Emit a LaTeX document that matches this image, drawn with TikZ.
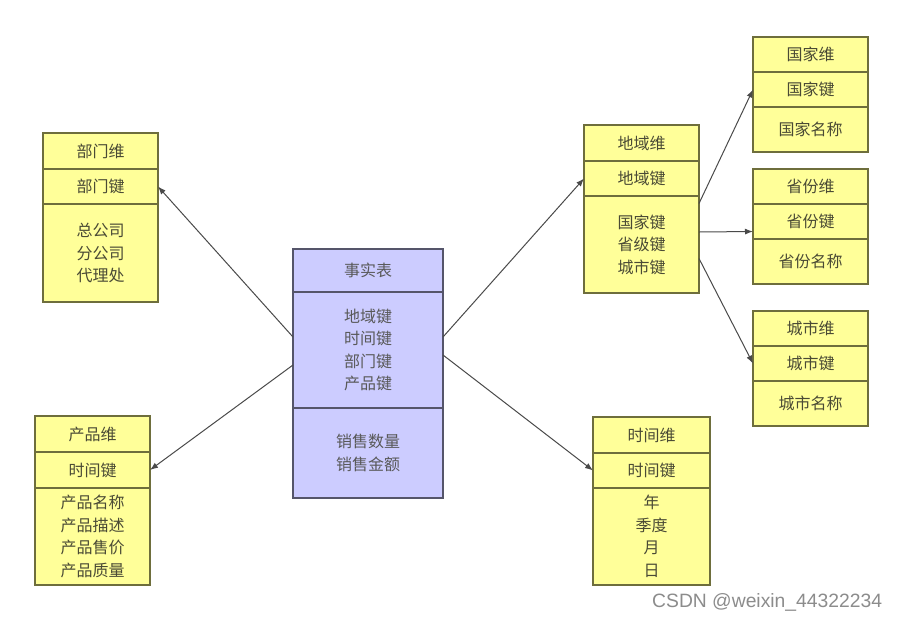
\documentclass[tikz,border=0pt]{standalone}
\usepackage{fontspec}
\newfontfamily\cjk{Noto Sans CJK SC}
\setsansfont{Liberation Sans}
\usetikzlibrary{positioning,arrows.meta}

\definecolor{amarillo}{HTML}{FFFF99}
\definecolor{bordeamarillo}{HTML}{6E6E3C}
\definecolor{lila}{HTML}{CCCCFF}
\definecolor{bordelila}{HTML}{55556A}
\definecolor{texto}{HTML}{4A4A35}
\definecolor{linea}{HTML}{4A4A4A}

\tikzset{
    celda/.style={draw=bordeamarillo, fill=amarillo, line width=1.3pt, minimum width=115pt,
        inner sep=0pt, outer sep=0pt, align=center, text=texto,
        font=\cjk\fontsize{16}{22.5}\selectfont},
    celdahecho/.style={celda, draw=bordelila, fill=lila, minimum width=150pt, text=black!65},
    flecha/.style={draw=linea, line width=1pt, -{Latex[length=8pt,width=6pt]}}
}

\begin{document}
\begin{tikzpicture}[x=1pt,y=-1pt]
    \useasboundingbox[fill=white] (0,0) rectangle (898,619);

    % Tabla de hechos
    \node[celdahecho, anchor=north west, minimum height=43pt] (f1) at (293,249) {事实表};
    \node[celdahecho, below=0pt of f1, minimum height=116pt] (f2) {地域键\\时间键\\部门键\\产品键};
    \node[celdahecho, below=0pt of f2, minimum height=90pt] (f3) {销售数量\\销售金额};

    % Dimensión departamento
    \node[celda, anchor=north west, minimum height=36pt] (d1) at (43,133) {部门维};
    \node[celda, below=0pt of d1, minimum height=35pt] (d2) {部门键};
    \node[celda, below=0pt of d2, minimum height=98pt] (d3) {总公司\\分公司\\代理处};

    % Dimensión producto
    \node[celda, anchor=north west, minimum height=36pt] (p1) at (35,416) {产品维};
    \node[celda, below=0pt of p1, minimum height=36pt] (p2) {时间键};
    \node[celda, below=0pt of p2, minimum height=97pt] (p3) {产品名称\\产品描述\\产品售价\\产品质量};

    % Dimensión región
    \node[celda, anchor=north west, minimum height=36pt] (r1) at (584,125) {地域维};
    \node[celda, below=0pt of r1, minimum height=35pt] (r2) {地域键};
    \node[celda, below=0pt of r2, minimum height=97pt] (r3) {国家键\\省级键\\城市键};

    % Dimensión tiempo
    \node[celda, anchor=north west, minimum width=117pt, minimum height=36pt] (t1) at (593,417) {时间维};
    \node[celda, below=0pt of t1, minimum width=117pt, minimum height=35pt] (t2) {时间键};
    \node[celda, below=0pt of t2, minimum width=117pt, minimum height=97pt] (t3) {年\\季度\\月\\日};

    % Tablas de país, provincia y ciudad
    \foreach \id/\nom/\y in {g/国家/37, s/省份/169, c/城市/311} {
        \node[celda, anchor=north west, minimum height=35pt] (\id1) at (753,\y) {\nom 维};
        \node[celda, below=0pt of \id1, minimum height=35pt] (\id2) {\nom 键};
        \node[celda, below=0pt of \id2, minimum height=45pt] (\id3) {\nom 名称};
    }

    % Flechas
    \draw[flecha] ([yshift=13pt]f2.west) -- (d2.east);
    \draw[flecha] ([yshift=-15pt]f2.west) -- (p2.east);
    \draw[flecha] ([yshift=13pt]f2.east) -- (r2.west);
    \draw[flecha] ([yshift=-5pt]f2.east) -- (t2.west);
    \draw[flecha] ([yshift=41pt]r3.east) -- (g2.west);
    \draw[flecha] ([yshift=12.5pt]r3.east) -- ([yshift=-10pt]s2.west);
    \draw[flecha] ([yshift=-14pt]r3.east) -- (c2.west);

    % Marca de agua
    \node[font=\sffamily\fontsize{19.3}{23}\selectfont, text=black!45, anchor=base west, inner sep=0pt]
        (marca) at (652,607) {CSDN @weixin\_44322234};
\end{tikzpicture}
\end{document}
